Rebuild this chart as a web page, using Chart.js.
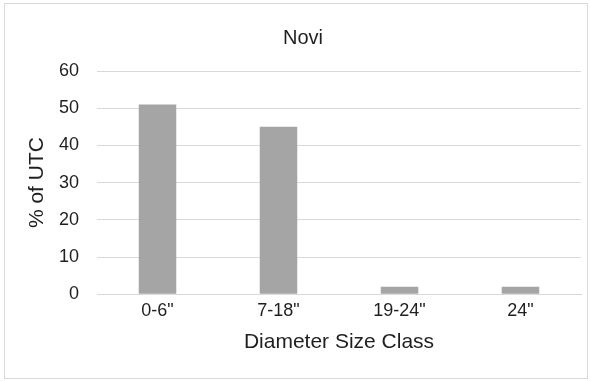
<!DOCTYPE html>
<html>
<head>
<meta charset="utf-8">
<script src="https://cdn.jsdelivr.net/npm/chart.js@4"></script>
<style>
    html, body { margin: 0; padding: 0; background: #fff; }
    #frame { position: absolute; left: 4px; top: 3px; width: 582px; height: 374px; border: 1px solid #d9d9d9; }
    #wrap { position: absolute; left: 0; top: 0; width: 591px; height: 381px; }
</style>
</head>
<body>
<div id="frame"></div>
<div id="wrap"><canvas id="chart" width="591" height="381"></canvas></div>
<script>
const categories = ['0-6"', '7-18"', '19-24"', '24"'];
const utcPercent = [51, 45, 2, 2];
const yTicks = [0, 10, 20, 30, 40, 50, 60];

const textColor = "#1f1f1f";
const gridColor = "#d9d9d9";

const ctx = document.getElementById("chart").getContext("2d");
new Chart(ctx, {
    type: "bar",
    data: {
        labels: categories,
        datasets: [{
            label: "Novi",
            data: utcPercent,
            backgroundColor: "#a5a5a5",
            categoryPercentage: 1,
            barPercentage: 0.31
        }]
    },
    options: {
        responsive: false,
        animation: false,
        layout: { padding: { left: 25, right: 10, top: 0, bottom: 26 } },
        plugins: {
            legend: { display: false },
            tooltip: { enabled: false },
            title: {
                display: true,
                text: "Novi",
                color: textColor,
                font: { family: "Liberation Sans, Arial", size: 20, weight: "normal" },
                padding: { top: 26, bottom: 21 }
            }
        },
        scales: {
            x: {
                grid: { display: false, drawTicks: false },
                border: { color: gridColor, width: 1 },
                ticks: {
                    color: textColor,
                    font: { family: "Liberation Sans, Arial", size: 18 },
                    padding: 6
                },
                title: {
                    display: true,
                    text: "Diameter Size Class",
                    color: textColor,
                    font: { family: "Liberation Sans, Arial", size: 21 },
                    padding: { top: 2, bottom: 0 }
                }
            },
            y: {
                min: 0,
                max: 60,
                afterBuildTicks: (axis) => { axis.ticks = yTicks.map((v) => ({ value: v })); },
                afterFit: (axis) => { axis.width = 72; },
                grid: { color: gridColor, drawTicks: false },
                border: { display: false },
                ticks: {
                    color: textColor,
                    font: { family: "Liberation Sans, Arial", size: 18 },
                    padding: 18
                },
                title: {
                    display: true,
                    text: "% of UTC",
                    color: textColor,
                    font: { family: "Liberation Sans, Arial", size: 21 },
                    padding: { top: 0, bottom: 7 }
                }
            }
        }
    }
});
</script>
</body>
</html>
